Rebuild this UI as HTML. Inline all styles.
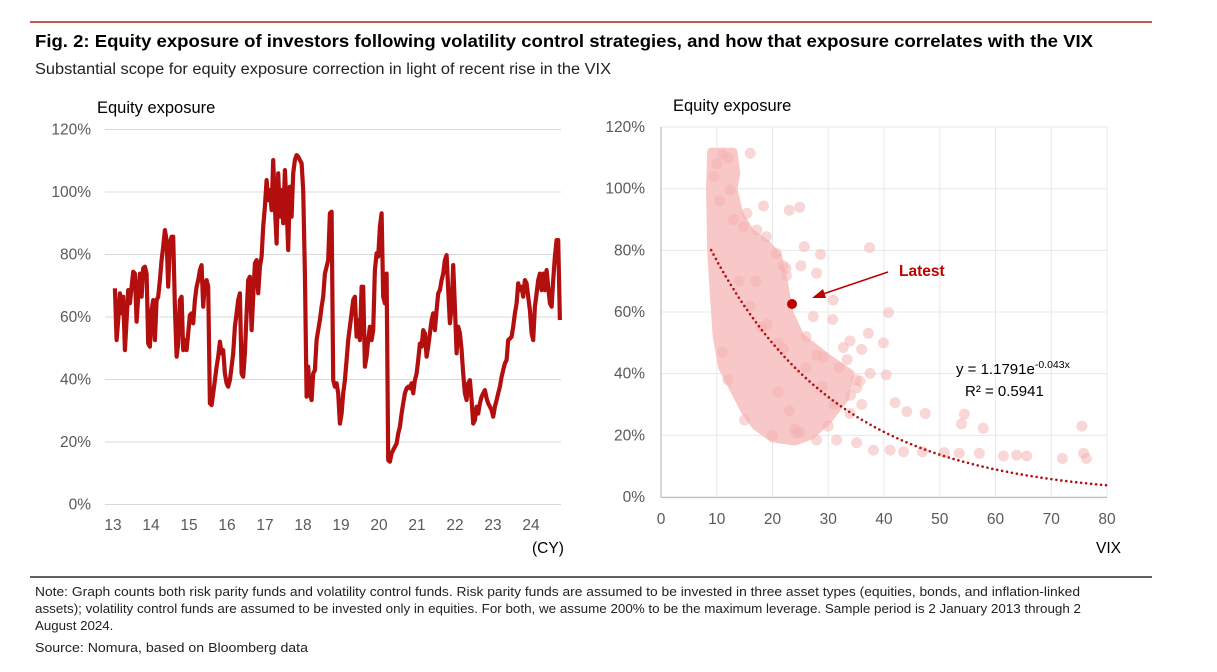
<!DOCTYPE html>
<html><head><meta charset="utf-8"><style>
body{margin:0;background:#fff;width:1217px;height:672px;overflow:hidden;font-family:"Liberation Sans",Arial,sans-serif}
svg{position:absolute;left:0;top:0}
</style></head><body>
<svg id="s" width="1217" height="672">
<line x1="30" y1="22" x2="1152" y2="22" stroke="#b0201c" stroke-width="1.5"/>
<text x="35" y="47" font-size="17.5" font-weight="bold" fill="#000" textLength="1058" lengthAdjust="spacingAndGlyphs">Fig. 2: Equity exposure of investors following volatility control strategies, and how that exposure correlates with the VIX</text>
<text x="35" y="74" font-size="15.5" fill="#222" textLength="576" lengthAdjust="spacingAndGlyphs">Substantial scope for equity exposure correction in light of recent rise in the VIX</text>
<line x1="30" y1="577" x2="1152" y2="577" stroke="#000" stroke-width="1.2"/>
<g font-size="13.3" fill="#222">
<text x="35" y="596" textLength="1045" lengthAdjust="spacingAndGlyphs">Note: Graph counts both risk parity funds and volatility control funds. Risk parity funds are assumed to be invested in three asset types (equities, bonds, and inflation-linked</text>
<text x="35" y="613" textLength="1046" lengthAdjust="spacingAndGlyphs">assets); volatility control funds are assumed to be invested only in equities. For both, we assume 200% to be the maximum leverage. Sample period is 2 January 2013 through 2</text>
<text x="35" y="630">August 2024.</text>
<text x="35" y="652" textLength="273" lengthAdjust="spacingAndGlyphs">Source: Nomura, based on Bloomberg data</text>
</g>
<g id="left"></g>
<g id="right"></g>
</svg>
<script>
const NS="http://www.w3.org/2000/svg";
const leftYTicks=[0,20,40,60,80,100,120];
const leftXTicks=[13,14,15,16,17,18,19,20,21,22,23,24];
const lineStartYear=13.05;
const lineStepYears=0.04386;
const exposure=[69.2,52.6,59.0,67.6,61.2,66.5,49.4,59.0,68.6,64.4,69.7,74.5,73.9,58.5,66.5,73.9,66.5,75.6,76.1,73.9,51.5,50.5,62.2,65.4,52.6,65.4,66.5,71.8,78.2,82.5,87.8,84.6,69.7,83.5,85.7,85.7,63.3,47.3,51.5,65.4,66.5,49.4,52.6,49.4,54.8,60.6,61.2,58.0,65.4,69.7,71.8,75.0,76.6,63.3,70.8,71.8,69.7,32.4,31.8,35.6,39.8,44.1,47.3,52.1,48.4,49.4,41.9,38.8,37.7,39.8,44.1,48.4,56.9,61.2,65.4,67.6,41.9,40.9,48.4,61.2,71.8,72.9,55.8,66.5,77.2,78.2,67.6,76.1,79.3,88.9,95.3,103.8,97.4,100.6,94.2,110.2,95.3,83.5,106.0,92.1,100.6,90.0,107.0,95.3,81.4,101.7,92.1,106.0,110.2,111.8,111.3,110.2,109.2,100.6,73.9,34.5,44.1,35.6,33.4,41.9,43.0,52.6,55.8,59.0,63.3,66.5,73.9,76.1,78.2,93.2,93.7,39.8,37.7,38.8,35.6,25.9,29.1,35.6,39.8,46.2,52.6,56.9,61.2,65.4,66.5,53.7,59.0,52.6,69.7,69.7,44.1,47.3,52.6,56.9,52.6,55.8,75.0,80.4,79.3,88.9,93.2,66.5,64.4,73.9,14.2,13.7,16.4,17.4,18.5,19.5,22.7,24.9,29.1,32.4,35.6,37.2,37.7,37.2,38.8,35.6,39.8,41.9,46.2,51.5,50.5,55.8,54.8,47.3,50.5,54.8,59.0,61.2,55.8,62.2,67.6,68.6,71.8,73.9,78.2,79.8,68.6,58.0,63.3,76.6,63.3,48.4,56.9,54.8,49.4,41.9,35.6,33.4,38.8,39.8,33.4,25.9,27.0,31.3,29.1,32.4,34.5,35.6,36.6,34.0,32.4,31.3,30.2,28.1,31.3,33.4,35.6,37.7,40.9,43.0,45.2,46.2,52.6,53.1,53.7,56.9,61.2,64.4,70.8,68.6,69.7,66.5,71.8,70.8,66.5,62.2,54.8,52.6,63.3,67.6,71.8,73.9,68.6,73.9,68.6,75.0,69.7,64.4,63.3,71.8,79.3,84.6,84.6,59.0];

const rightXTicks=[0,10,20,30,40,50,60,70,80];
const rightYTicks=[0,20,40,60,80,100,120];
const cloudVix=[9,13,13.5,13,14,16,19,21,22,23,25,30,34,33,30,27,24,20,17,15,13,11,10,9.5,9,8.8];
const cloudPct=[112,112,105,100,92,86,82,78,70,60,52,45,40,32,25,20,18,19,23,28,35,42,52,65,80,100];
const outVix=[16.0,18.4,23.0,24.9,37.4,28.6,25.7,25.1,27.9,30.9,40.8,30.8,27.3,37.2,39.9,36.0,33.4,40.4,37.5,42.0,47.4,54.4,53.9,57.8,75.5,75.8,76.3,72.0,65.6,63.8,61.4,57.1,53.5,50.8,46.9,43.5,41.1,38.1,35.1,31.5,27.9,24.3,22.4,21.9,22.5,33.9,32.7,29.1,35.7,35.1,44.1,33.9,12.4,15.4,14.8,17.2,18.9,20.7,11,12,10,9.5,10.5,14,16,18,22,26,29,31,24,20,15,12,11,13,17,19,21,26,28,32,35,34,36,30,25,23,21];
const outPct=[111.5,94.4,93.0,94.0,80.9,78.7,81.2,75.0,72.6,63.9,59.8,57.6,58.5,53.1,50.0,47.9,44.6,39.6,40.1,30.6,27.1,26.9,23.7,22.3,23.0,14.2,12.5,12.5,13.3,13.6,13.3,14.2,14.2,14.4,14.7,14.7,15.2,15.2,17.6,18.5,18.5,20.7,74.2,75.0,71.8,50.6,48.5,45.3,37.6,35.4,27.7,27.1,99.6,92,87.7,86.6,84.4,79,111,110,108,104,96,70,62,55,48,42,36,30,22,20,25,38,47,90,70,56,50,52,46,42,38,33,30,23,21,28,34];
const latestVix=23.5, latestPct=62.6;
const fitA=1.1791, fitB=-0.043;

function el(tag,attrs,parent,text){const e=document.createElementNS(NS,tag);for(const k in attrs)e.setAttribute(k,attrs[k]);if(text!==undefined)e.textContent=text;parent.appendChild(e);return e;}

// left chart
const L=document.getElementById('left');
const lx=y=>113+(y-13)*38.0, ly=p=>504.5-p*3.125;
for(const t of leftYTicks){
  const g=el('line',{x1:105,x2:561,y1:ly(t),y2:ly(t),stroke:'#d9d9d9','stroke-width':1},L);
  
  
  const tx=el('text',{x:91,y:ly(t)+5,'text-anchor':'end','font-size':15.5,fill:'#595959'},L,t+'%');
  
  
}
for(const t of leftXTicks){
  const tx=el('text',{x:lx(t),y:530,'text-anchor':'middle','font-size':15.5,fill:'#595959'},L,String(t));
  
  
}
let t1=el('text',{x:97,y:113,'font-size':16.5,fill:'#000'},L,'Equity exposure');


let t2=el('text',{x:532,y:553,'font-size':15.5,fill:'#000'},L,'(CY)');


const pts=exposure.map((v,i)=>lx(lineStartYear+i*lineStepYears).toFixed(1)+','+ly(v).toFixed(1)).join(' ');
const pl=el('polyline',{points:pts,fill:'none',stroke:'#b40f0f','stroke-width':4.2,'stroke-linejoin':'round'},L);



// right chart
const R=document.getElementById('right');
const rx=v=>661+v*5.575, ry=p=>497-p*3.083;
for(const t of rightYTicks){
  const g=el('line',{x1:661,x2:1107,y1:ry(t),y2:ry(t),stroke:'#e8e8e8','stroke-width':1},R);
  
  
  const tx=el('text',{x:645,y:ry(t)+5,'text-anchor':'end','font-size':15.5,fill:'#595959'},R,t+'%');
  
  
}
for(const t of rightXTicks){
  const g=el('line',{x1:rx(t),x2:rx(t),y1:ry(120),y2:ry(0),stroke:'#e8e8e8','stroke-width':1},R);
  
  
  const tx=el('text',{x:rx(t),y:524,'text-anchor':'middle','font-size':15.5,fill:'#595959'},R,String(t));
  
  
}
let ax=el('line',{x1:661,x2:1107,y1:497.5,y2:497.5,stroke:'#bfbfbf','stroke-width':1.2},R);


let ay=el('line',{x1:661,x2:661,y1:ry(120),y2:497.5,stroke:'#bfbfbf','stroke-width':1.2},R);


let t3=el('text',{x:673,y:111,'font-size':16.5,fill:'#000'},R,'Equity exposure');


let t4=el('text',{x:1096,y:553,'font-size':15.5,fill:'#000'},R,'VIX');


const cloud=el('polygon',{points:cloudVix.map((v,i)=>rx(v)+','+ry(cloudPct[i])).join(' '),fill:'#f8c8c8',stroke:'#f8c8c8','stroke-width':8,'stroke-linejoin':'round'},R);


outVix.forEach((v,i)=>{
  const c=el('circle',{cx:rx(v),cy:ry(outPct[i]),r:5.5,fill:'#f4b0b0','fill-opacity':0.5},R);
  
  
});
let fp=[];for(let v=9;v<=80;v+=0.25)fp.push(rx(v).toFixed(1)+','+ry(100*fitA*Math.exp(fitB*v)).toFixed(1));
const fit=el('polyline',{points:fp.join(' '),fill:'none',stroke:'#b40f0f','stroke-width':2.6,'stroke-dasharray':'0 5','stroke-linecap':'round'},R);


const lp=el('circle',{cx:rx(latestVix),cy:ry(latestPct),r:5,fill:'#c00000'},R);


const ar=el('line',{x1:888,y1:272,x2:820,y2:295,stroke:'#c00000','stroke-width':1.5},R);


const ah=el('polygon',{points:'812,298 823,289 826,298',fill:'#c00000'},R);


const lt=el('text',{x:899,y:276,'font-size':15.5,'font-weight':'bold',fill:'#c00000'},R,'Latest');


const eq=el('text',{x:956,y:374,'font-size':15,fill:'#000'},R);


el('tspan',{},eq,'y = 1.1791e');
el('tspan',{dy:-6,'font-size':10.5},eq,'-0.043x');
const r2=el('text',{x:965,y:396,'font-size':15,fill:'#000'},R,'R² = 0.5941');


</script>
</body></html>
